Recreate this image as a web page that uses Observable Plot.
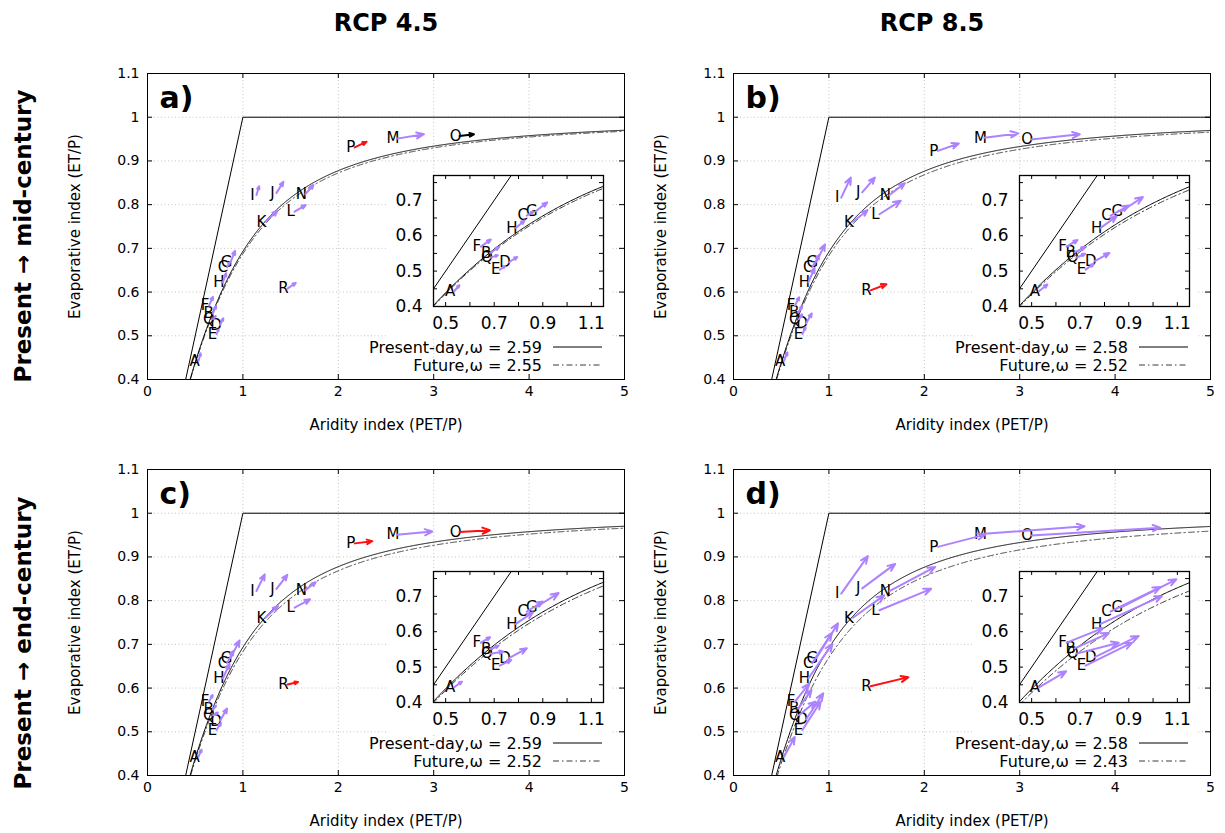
<!DOCTYPE html>
<html><head><meta charset="utf-8">
<script src="https://cdn.jsdelivr.net/npm/d3@7"></script>
<script src="https://cdn.jsdelivr.net/npm/@observablehq/plot@0.6"></script>
<style>
html,body{margin:0;padding:0;background:#fff;}
#root{position:relative;width:1225px;height:833px;overflow:hidden;background:#fff;font-family:"DejaVu Sans",sans-serif;color:#000;}
#root svg{overflow:visible;}
</style></head><body><div id="root"></div>
<script>
// ---------------- data ----------------
const sites = ["A","B","C","D","E","F","G","H","I","J","K","L","M","N","O","P","Q","R"];
// present-day positions (aridity index, evaporative index)
const pres45X = [0.535,0.683,0.834,0.761,0.723,0.645,0.871,0.789,1.142,1.352,1.236,1.542,2.615,1.655,3.272,2.172,0.686,1.467];
const pres45Y = [0.443,0.551,0.657,0.525,0.504,0.569,0.669,0.622,0.822,0.827,0.761,0.784,0.951,0.824,0.957,0.931,0.538,0.608];
const pres85X = [0.530,0.677,0.825,0.760,0.722,0.644,0.869,0.784,1.129,1.349,1.251,1.530,2.631,1.635,3.120,2.142,0.685,1.436];
const pres85Y = [0.443,0.553,0.657,0.528,0.504,0.569,0.669,0.622,0.816,0.828,0.761,0.778,0.953,0.822,0.949,0.923,0.538,0.604];
// future positions per panel
const futAX = [0.557,0.720,0.862,0.795,0.745,0.686,0.918,0.825,1.170,1.425,1.362,1.658,2.898,1.739,3.422,2.297,0.715,1.554];
const futAY = [0.460,0.568,0.668,0.540,0.514,0.589,0.694,0.643,0.842,0.852,0.786,0.799,0.961,0.845,0.961,0.944,0.545,0.621];
const futBX = [0.565,0.720,0.900,0.820,0.755,0.689,0.958,0.850,1.230,1.482,1.405,1.754,2.984,1.796,3.630,2.362,0.720,1.604];
const futBY = [0.462,0.568,0.685,0.551,0.520,0.588,0.709,0.655,0.862,0.862,0.787,0.809,0.963,0.849,0.961,0.940,0.549,0.618];
const futCX = [0.567,0.718,0.900,0.834,0.770,0.683,0.965,0.860,1.229,1.466,1.369,1.704,2.985,1.763,3.589,2.357,0.738,1.578];
const futCY = [0.459,0.560,0.685,0.553,0.520,0.584,0.709,0.655,0.860,0.859,0.788,0.803,0.958,0.842,0.961,0.936,0.544,0.614];
const futDX = [0.642,0.818,1.030,0.941,0.914,0.794,1.096,1.037,1.408,1.695,1.580,2.072,3.679,2.114,4.473,2.638,0.859,1.834];
const futDY = [0.488,0.596,0.726,0.588,0.569,0.610,0.748,0.701,0.902,0.884,0.812,0.827,0.970,0.877,0.967,0.951,0.569,0.625];
// change class per site (1 = purple, 2 = red, 3 = black)
const clsA = [1,1,1,1,1,1,1,1,1,1,1,1,1,1,3,2,1,1];
const clsB = [1,1,1,1,1,1,1,1,1,1,1,1,1,1,1,1,1,2];
const clsC = [1,1,1,1,1,1,1,1,1,1,1,1,1,1,2,2,1,2];
const clsD = [1,1,1,1,1,1,1,1,1,1,1,1,1,1,1,1,1,2];
// Fu-curve parameters (from legends)
const omegaPresent = [2.59, 2.58, 2.59, 2.58];
const omegaFuture  = [2.55, 2.52, 2.52, 2.43];
const panelLetters = ["a)","b)","c)","d)"];
// energy limit
const limitX = [0, 1, 5];
const limitY = [0, 1, 1];
// ticks
const mainXTicks = [0,1,2,3,4,5];
const mainYTicks = [0.4,0.5,0.6,0.7,0.8,0.9,1.0,1.1];
const insetXTicks = [0.5,0.6,0.7,0.8,0.9,1.0,1.1];
const insetXLabels = [0.5,0.7,0.9,1.1];
const insetYTicks = [0.4,0.45,0.5,0.55,0.6,0.65,0.7,0.75];
const insetYLabels = [0.4,0.5,0.6,0.7];
const colTitles = ["RCP 4.5","RCP 8.5"];
const rowTitles = ["Present \u2192 mid-century","Present \u2192 end-century"];
const xLabel = "Aridity index (PET/P)";
const yLabel = "Evaporative index (ET/P)";

// ---------------- drawing ----------------
const PURPLE = "#ad82ff", RED = "#ff1010";
const fu = (x, w) => 1 + x - Math.pow(1 + Math.pow(x, w), 1 / w);
const curveGrid = d3.range(0.3, 5.0001, 0.005);
const root = document.getElementById("root");
function place(node, left, top, w, h) {
  const div = document.createElement("div");
  div.style.cssText = `position:absolute;left:${left}px;top:${top}px;width:${w}px;height:${h}px;`;
  div.appendChild(node); root.appendChild(div); return div;
}
function addText(txt, cx, cy, size, rot) {
  const div = document.createElement("div");
  div.textContent = txt;
  div.style.cssText = `position:absolute;left:${cx}px;top:${cy}px;white-space:nowrap;font-family:'DejaVu Sans',sans-serif;font-weight:bold;font-size:${size}px;line-height:1;transform:translate(-50%,-50%) rotate(${rot}deg);`;
  root.appendChild(div);
}
const colorScale = {type: "ordinal", domain: [1,2,3], range: [PURPLE, RED, "#000"]};

const panels = [
  {px: pres45X, py: pres45Y, fx: futAX, fy: futAY, cls: clsA, FL: 147, FT: 73, mb: 60},
  {px: pres85X, py: pres85Y, fx: futBX, fy: futBY, cls: clsB, FL: 733, FT: 73, mb: 60},
  {px: pres45X, py: pres45Y, fx: futCX, fy: futCY, cls: clsC, FL: 147, FT: 469, mb: 57},
  {px: pres85X, py: pres85Y, fx: futDX, fy: futDY, cls: clsD, FL: 733, FT: 469, mb: 57}
];

panels.forEach((p, k) => {
  const rows = sites.map((s, i) => ({s, x0: p.px[i], y0: p.py[i], x1: p.fx[i], y1: p.fy[i], c: p.cls[i]}));
  const wp = omegaPresent[k], wf = omegaFuture[k];
  const curve = curveGrid.map(x => ({x, yp: fu(x, wp), yf: fu(x, wf)}));
  const limit = limitX.map((x, i) => ({x, y: limitY[i]}));
  const iw = 477, ih = 306;
  const ML = 95, MR = 15, MT = 30, W = ML + iw + MR, H = MT + ih + p.mb;
  const grid = {stroke: "#c4c4c4", strokeOpacity: 1, strokeDasharray: "1,2.5"};
  const main = Plot.plot({
    width: W, height: H, marginLeft: ML, marginRight: MR, marginTop: MT, marginBottom: p.mb,
    x: {domain: [0, 5], label: null}, y: {domain: [0.4, 1.1], label: null},
    color: colorScale,
    style: {fontFamily: "DejaVu Sans", fontSize: "14px", background: "transparent", color: "#000"},
    marks: [
      Plot.gridX(mainXTicks.slice(1, -1), grid),
      Plot.gridY(mainYTicks.slice(1, -1), grid),
      Plot.line(limit, {x: "x", y: "y", stroke: "#000", strokeWidth: 1, clip: true}),
      Plot.line(curve, {x: "x", y: "yf", stroke: "#3a3a3a", strokeWidth: 1, strokeDasharray: "6,3,1.5,3", clip: true}),
      Plot.line(curve, {x: "x", y: "yp", stroke: "#000", strokeWidth: 1, clip: true}),
      Plot.text(rows, {x: "x0", y: "y0", text: "s", dx: -4, fontSize: 15, fill: "#000"}),
      Plot.arrow(rows, {x1: "x0", y1: "y0", x2: "x1", y2: "y1", stroke: "c", strokeWidth: 2, headLength: 6, headAngle: 45, clip: true}),
      Plot.ruleX(mainXTicks, {x: d => d, insetTop: ih - 5, stroke: "#000"}),
      Plot.ruleX(mainXTicks, {x: d => d, insetBottom: ih - 5, stroke: "#000"}),
      Plot.ruleY(mainYTicks, {y: d => d, insetRight: iw - 5, stroke: "#000"}),
      Plot.ruleY(mainYTicks, {y: d => d, insetLeft: iw - 5, stroke: "#000"}),
      Plot.frame({stroke: "#000"}),
      Plot.axisX(mainXTicks, {tickSize: 0, tickPadding: 7, tickFormat: d => String(d), label: null}),
      Plot.axisY(mainYTicks, {tickSize: 0, tickPadding: 8, tickFormat: d => String(d), label: null}),
      Plot.text([xLabel], {text: d => d, frameAnchor: "bottom", dy: 46, textAnchor: "middle", lineAnchor: "middle", fontSize: 15}),
      Plot.text([yLabel], {text: d => d, frameAnchor: "left", dx: -72, rotate: -90, textAnchor: "middle", lineAnchor: "middle", fontSize: 15}),
      Plot.text([panelLetters[k]], {text: d => d, frameAnchor: "top-left", dx: 12, dy: 25, textAnchor: "start", lineAnchor: "middle", fontSize: 30, fontWeight: "bold"})
    ]
  });
  place(main, p.FL - ML, p.FT - MT, W, H);

  // inset
  const IW = 170, IH = 131, IL = 46, IR = 9, IT = 3, IB = 32;
  const inset = Plot.plot({
    width: IL + IW + IR, height: IT + IH + IB, marginLeft: IL, marginRight: IR, marginTop: IT, marginBottom: IB,
    x: {domain: [0.45, 1.15], label: null}, y: {domain: [0.4, 0.77], label: null},
    color: colorScale,
    style: {fontFamily: "DejaVu Sans", fontSize: "17px", background: "#fff", color: "#000"},
    marks: [
      Plot.line(limit, {x: "x", y: "y", stroke: "#000", strokeWidth: 1, clip: true}),
      Plot.line(curve, {x: "x", y: "yf", stroke: "#3a3a3a", strokeWidth: 1, strokeDasharray: "6,3,1.5,3", clip: true}),
      Plot.line(curve, {x: "x", y: "yp", stroke: "#000", strokeWidth: 1, clip: true}),
      Plot.text(rows.filter(r => r.x0 < 1.1), {x: "x0", y: "y0", text: "s", dx: -4, fontSize: 15, fill: "#000"}),
      Plot.arrow(rows, {x1: "x0", y1: "y0", x2: "x1", y2: "y1", stroke: "c", strokeWidth: 2, headLength: 6, headAngle: 45, clip: true}),
      Plot.ruleX(insetXTicks, {x: d => d, insetTop: IH - 4, stroke: "#000"}),
      Plot.ruleX(insetXTicks, {x: d => d, insetBottom: IH - 4, stroke: "#000"}),
      Plot.ruleY(insetYTicks, {y: d => d, insetRight: IW - 4, stroke: "#000"}),
      Plot.ruleY(insetYTicks, {y: d => d, insetLeft: IW - 4, stroke: "#000"}),
      Plot.frame({stroke: "#000", strokeWidth: 1.3}),
      Plot.axisX(insetXLabels, {tickSize: 0, tickPadding: 10, tickFormat: d => d.toFixed(1), label: null}),
      Plot.axisY(insetYLabels, {tickSize: 0, tickPadding: 11, tickFormat: d => d.toFixed(1), label: null})
    ]
  });
  place(inset, p.FL + 240, p.FT + 99, IL + IW + IR, IT + IH + IB);

  // legend
  const FR = p.FL + iw, FB = p.FT + ih;
  const LW = 270, LH = 46;
  const svg = d3.select(root).append("svg").attr("width", LW).attr("height", LH)
    .style("position", "absolute").style("left", (FR - LW) + "px").style("top", (FB - LH) + "px")
    .style("font-family", "DejaVu Sans").style("font-size", "16px");
  const leg = [
    {t: `Present-day,\u03c9 = ${wp.toFixed(2)}`, dash: null, y: LH - 32},
    {t: `Future,\u03c9 = ${wf.toFixed(2)}`, dash: "6,3,1.5,3", y: LH - 14}
  ];
  leg.forEach(r => {
    svg.append("text").attr("x", LW - 82).attr("y", r.y).attr("text-anchor", "end")
      .attr("dominant-baseline", "central").attr("fill", "#000").text(r.t);
    svg.append("line").attr("x1", LW - 71).attr("x2", LW - 22).attr("y1", r.y).attr("y2", r.y)
      .attr("stroke", r.dash ? "#3a3a3a" : "#000").attr("stroke-width", 1)
      .attr("stroke-dasharray", r.dash);
  });
});

addText(colTitles[0], 386, 23, 24, 0);
addText(colTitles[1], 932, 23, 24, 0);
addText(rowTitles[0], 23, 236, 23, -90);
addText(rowTitles[1], 23, 643, 23, -90);
</script></body></html>
